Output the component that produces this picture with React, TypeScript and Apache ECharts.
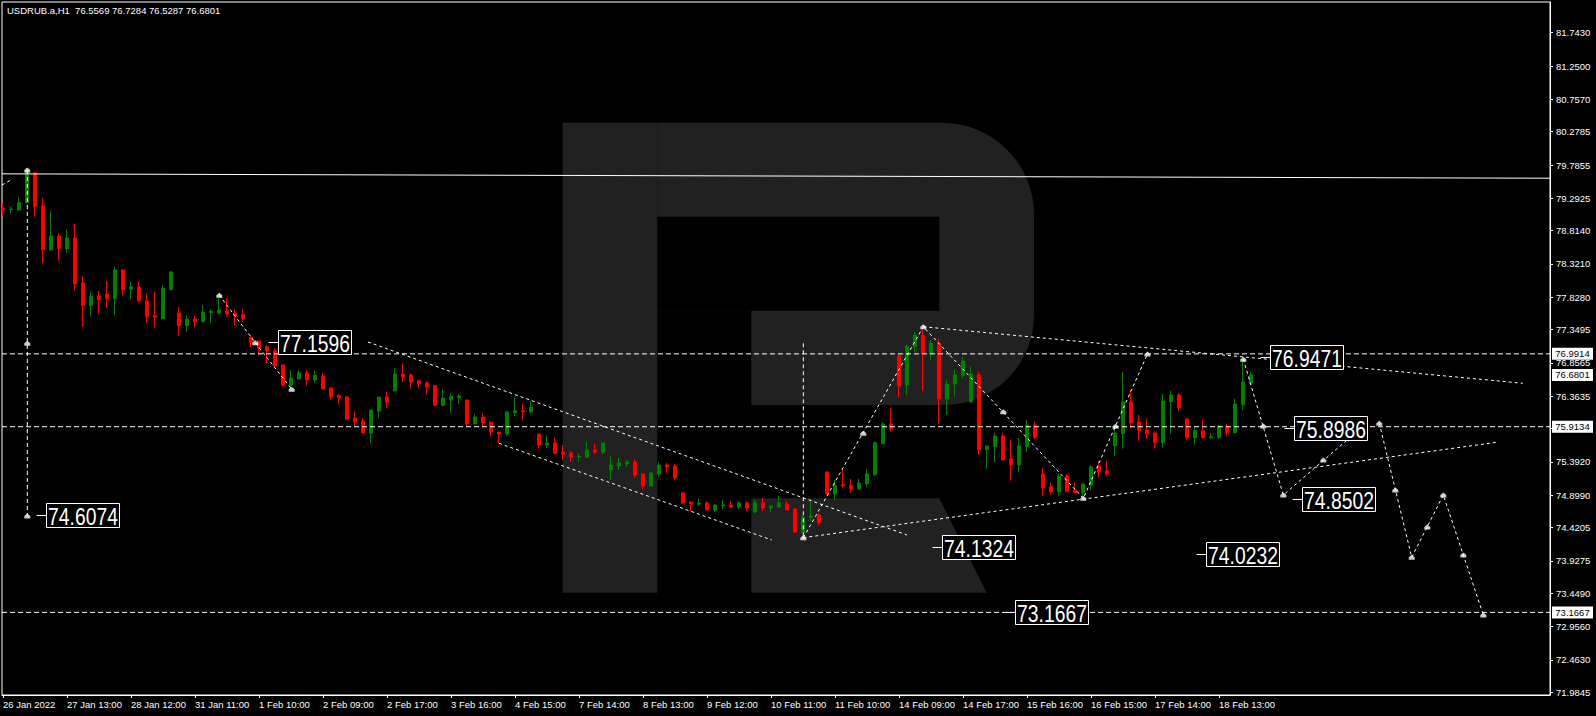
import React, { useEffect, useRef } from "react";
import * as echarts from "echarts";

// ---------- data ----------
const header = "USDRUB.a,H1  76.5569 76.7284 76.5287 76.6801";

// time-axis labels, one every 8 hourly bars
const timeLabels = [
  "26 Jan 2022", "27 Jan 13:00", "28 Jan 12:00", "31 Jan 11:00", "1 Feb 10:00",
  "2 Feb 09:00", "2 Feb 17:00", "3 Feb 16:00", "4 Feb 15:00", "7 Feb 14:00",
  "8 Feb 13:00", "9 Feb 12:00", "10 Feb 11:00", "11 Feb 10:00", "14 Feb 09:00",
  "14 Feb 17:00", "15 Feb 16:00", "16 Feb 15:00", "17 Feb 14:00", "18 Feb 13:00",
];
const barsPerLabel = 8;

// price-axis tick labels
const priceTicks = [
  81.743, 81.25, 80.757, 80.2785, 79.7855, 79.2925, 78.814, 78.321, 77.828,
  77.3495, 76.8565, 76.3635, 75.885, 75.392, 74.899, 74.4205, 73.9275, 73.449,
  72.956, 72.463, 71.9845,
];

// H1 candles: [open, close, low, high]
const ohlc: number[][] = [
  [79.149, 79.12, 79.031, 79.223], [79.127, 79.135, 79.071, 79.169], [79.12, 79.228, 79.105, 79.312],
  [79.228, 79.672, 79.228, 79.734], [79.667, 79.169, 79.021, 79.682], [79.179, 78.533, 78.331, 79.293],
  [78.528, 78.735, 78.518, 79.105], [78.735, 78.547, 78.37, 78.775], [78.547, 78.706, 78.488, 78.824],
  [78.706, 78.029, 77.936, 78.913], [78.04, 77.704, 77.393, 78.143], [77.704, 77.848, 77.556, 77.917],
  [77.848, 77.793, 77.586, 77.921], [77.877, 77.807, 77.674, 78.069], [77.807, 78.232, 77.571, 78.277],
  [78.232, 77.941, 77.852, 78.247], [77.947, 77.985, 77.807, 78.055], [77.981, 77.778, 77.749, 78.069],
  [77.774, 77.541, 77.453, 77.877], [77.556, 77.532, 77.379, 77.907], [77.511, 77.966, 77.507, 78.01],
  [77.941, 78.203, 77.936, 78.217], [77.596, 77.408, 77.26, 77.685], [77.408, 77.507, 77.319, 77.556],
  [77.507, 77.467, 77.379, 77.552], [77.467, 77.606, 77.463, 77.714], [77.6, 77.621, 77.453, 77.655],
  [77.596, 77.64, 77.571, 77.822], [77.626, 77.586, 77.541, 77.818], [77.596, 77.556, 77.408, 77.655],
  [77.571, 77.507, 77.467, 77.655], [77.236, 77.162, 77.092, 77.27], [77.182, 77.078, 76.989, 77.186],
  [77.097, 77.034, 76.852, 77.122], [77.034, 76.812, 76.801, 77.074], [76.827, 76.531, 76.506, 76.827],
  [76.526, 76.634, 76.497, 76.753], [76.619, 76.713, 76.615, 76.753], [76.708, 76.609, 76.521, 76.753],
  [76.605, 76.674, 76.565, 76.742], [76.664, 76.472, 76.467, 76.708], [76.487, 76.358, 76.309, 76.487],
  [76.372, 76.343, 76.254, 76.398], [76.353, 76.028, 76.013, 76.368], [76.042, 75.983, 75.924, 76.131],
  [75.998, 75.821, 75.821, 76.042], [75.821, 76.161, 75.673, 76.161], [76.146, 76.353, 76.042, 76.353],
  [76.353, 76.279, 76.191, 76.427], [76.442, 76.694, 76.442, 76.782], [76.694, 76.649, 76.575, 76.841],
  [76.679, 76.575, 76.487, 76.708], [76.594, 76.546, 76.487, 76.605], [76.56, 76.501, 76.398, 76.59],
  [76.521, 76.23, 76.22, 76.531], [76.23, 76.338, 76.22, 76.472], [76.309, 76.358, 76.116, 76.412],
  [76.343, 76.368, 76.25, 76.398], [76.309, 75.954, 75.924, 76.309], [75.954, 76.057, 75.949, 76.102],
  [76.057, 75.969, 75.914, 76.112], [75.983, 75.835, 75.776, 75.983], [75.835, 75.806, 75.668, 75.835],
  [75.806, 76.131, 75.781, 76.151], [76.121, 76.151, 76.072, 76.338], [76.151, 76.136, 76.013, 76.25],
  [76.131, 76.205, 76.106, 76.294], [75.806, 75.643, 75.584, 75.806], [75.643, 75.673, 75.599, 75.787],
  [75.673, 75.52, 75.51, 75.747], [75.54, 75.505, 75.421, 75.643], [75.525, 75.466, 75.396, 75.554],
  [75.47, 75.48, 75.396, 75.52], [75.461, 75.569, 75.451, 75.688], [75.569, 75.535, 75.51, 75.658],
  [75.54, 75.673, 75.51, 75.673], [75.273, 75.347, 75.125, 75.48], [75.332, 75.377, 75.273, 75.451],
  [75.362, 75.392, 75.318, 75.421], [75.392, 75.199, 75.155, 75.436], [75.214, 75.036, 74.992, 75.229],
  [75.036, 75.229, 75.026, 75.244], [75.214, 75.347, 75.17, 75.392], [75.347, 75.318, 75.229, 75.377],
  [75.332, 75.155, 75.125, 75.362], [74.933, 74.785, 74.77, 74.948], [74.8, 74.77, 74.667, 74.814],
  [74.77, 74.785, 74.741, 74.844], [74.785, 74.681, 74.681, 74.814], [74.681, 74.755, 74.652, 74.77],
  [74.741, 74.755, 74.696, 74.829], [74.755, 74.726, 74.711, 74.814], [74.726, 74.785, 74.696, 74.814],
  [74.785, 74.711, 74.667, 74.814], [74.652, 74.785, 74.637, 74.829], [74.785, 74.711, 74.667, 74.859],
  [74.711, 74.741, 74.652, 74.741], [74.726, 74.785, 74.711, 74.889], [74.77, 74.681, 74.681, 74.814],
  [74.696, 74.355, 74.341, 74.711], [74.355, 74.577, 74.341, 74.607], [74.573, 74.593, 74.523, 74.84],
  [74.607, 74.494, 74.449, 74.637], [75.244, 74.918, 74.918, 75.244], [74.918, 75.051, 74.829, 75.125],
  [75.055, 75.036, 75.011, 75.288], [75.046, 74.996, 74.937, 75.14], [74.996, 75.081, 74.973, 75.145],
  [75.071, 75.218, 75.017, 75.288], [75.204, 75.677, 75.184, 75.692], [75.662, 75.954, 75.658, 75.979],
  [75.954, 75.884, 75.84, 76.186], [76.964, 76.516, 76.353, 76.964], [76.531, 77.108, 76.383, 77.122],
  [77.097, 77.27, 77.019, 77.315], [77.266, 76.994, 76.446, 77.355], [76.994, 77.147, 76.901, 77.197],
  [77.147, 76.324, 75.958, 77.207], [76.324, 76.546, 76.091, 76.609], [76.546, 76.679, 76.358, 76.757],
  [76.668, 76.886, 76.624, 76.945], [76.279, 76.694, 76.269, 76.801], [76.679, 75.573, 75.495, 76.728],
  [75.573, 75.628, 75.292, 75.628], [75.618, 75.776, 75.387, 75.825], [75.776, 75.421, 75.421, 75.825],
  [75.436, 75.347, 75.115, 75.717], [75.347, 75.628, 75.244, 75.747], [75.618, 75.939, 75.54, 76.013],
  [75.939, 75.751, 75.736, 75.983], [75.214, 75.011, 74.893, 75.303], [75.026, 74.952, 74.908, 75.081],
  [74.952, 75.184, 74.893, 75.218], [75.184, 74.958, 74.943, 75.214], [74.977, 74.937, 74.923, 75.086],
  [74.937, 75.066, 74.878, 75.086], [75.051, 75.318, 74.977, 75.347], [75.332, 75.248, 75.159, 75.406],
  [75.258, 75.214, 75.189, 75.406], [75.633, 75.821, 75.48, 75.924], [75.81, 76.279, 75.588, 76.723],
  [76.279, 75.969, 75.89, 76.457], [75.983, 75.855, 75.707, 76.087], [75.865, 75.81, 75.736, 76.038],
  [75.821, 75.677, 75.588, 75.84], [75.677, 76.294, 75.603, 76.398], [76.284, 76.383, 75.81, 76.446],
  [76.383, 76.195, 76.151, 76.412], [76.028, 75.751, 75.721, 76.042], [75.751, 75.855, 75.647, 75.914],
  [75.85, 75.751, 75.751, 76.013], [75.751, 75.766, 75.736, 75.825], [75.751, 75.924, 75.736, 75.939],
  [75.924, 75.825, 75.781, 75.954], [75.825, 76.25, 75.81, 76.328], [76.239, 76.575, 76.165, 76.901],
  [76.5569, 76.6801, 76.5287, 76.7284],
];

// horizontal price levels (dashed) and their axis tags
const levels = [76.9914, 75.9134, 73.1667];
const axisTags = [76.9914, 76.6801, 75.9134, 73.1667];

// solid trend ray near the top: [bar, price]
const topRay = [[-0.125, 79.655], [193.375, 79.59]];

// dotted trend lines / forecast path: [bar, price]
const trendLines: number[][][] = [
  [[27.04, 77.858], [31.54, 77.157], [36.09, 76.467]],
  [[45.63, 77.167], [113.0, 74.311]],
  [[62.0, 75.668], [96.09, 74.238]],
  [[100.04, 74.272], [115.04, 77.393], [135.04, 74.854], [143.06, 76.989]],
  [[115.04, 77.393], [189.99, 76.556]],
  [[100.04, 74.272], [186.7, 75.683]],
  [[155.04, 76.911], [160.04, 74.903], [170.04, 75.924]],
  [[172.04, 75.964], [176.09, 73.982], [180.04, 74.903], [185.04, 73.128]],
  [[-0.125, 79.49], [1.0, 79.564]],
];
const verticalLines: number[][][] = [
  [[3.04, 79.712], [3.04, 74.593]],
  [[100.04, 77.148], [100.04, 74.282]],
];

// anchor markers on the drawn lines: [bar, price]
const anchors = [
  [3.04, 79.712], [3.04, 77.148], [3.04, 74.593], [27.04, 77.858], [31.54, 77.157],
  [36.09, 76.467], [100.04, 74.272], [107.54, 75.816], [115.04, 77.393], [125.04, 76.136],
  [135.04, 74.854], [139.06, 75.921], [143.06, 76.989], [155.04, 76.911], [157.54, 75.924],
  [160.04, 74.903], [165.04, 75.421], [170.04, 75.924], [172.04, 75.964], [174.04, 74.977],
  [176.09, 73.982], [178.04, 74.43], [180.04, 74.903], [182.54, 74.016], [185.04, 73.128],
];

// price labels placed on the chart: [bar, price]
const priceLabels = [
  [33.16, 77.1596], [4.13, 74.6074], [116.16, 74.1324], [157.1, 76.9471],
  [160.1, 75.8986], [161.1, 74.8502], [149.1, 74.0232], [125.25, 73.1667],
];

// ---------- layout ----------
const X_MIN = -0.125;
const X_MAX = 193.375;
const Y_MIN = 71.9443;
const Y_MAX = 82.1972;
const FONT = '"Liberation Sans", Arial, sans-serif';
const BULL = "#008000";
const BEAR = "#ff0000";
const LOGO = "#212121";

function buildOption() {
  const xTickValues = timeLabels.map((_, i) => i * barsPerLabel);

  const series: any[] = [];

  series.push({
    type: "candlestick",
    data: ohlc.map((d, i) => [i, d[0], d[1], d[2], d[3]]),
    encode: { x: 0, y: [1, 2, 3, 4] },
    barWidth: 4,
    itemStyle: { color: BULL, color0: BEAR, borderColor: BULL, borderColor0: BEAR, borderWidth: 1 },
    z: 3,
    silent: true,
  });

  series.push({
    type: "line",
    data: topRay,
    symbol: "none",
    lineStyle: { color: "#ffffff", width: 1 },
    z: 4,
    silent: true,
  });

  levels.forEach((lv) => {
    series.push({
      type: "line",
      data: [[X_MIN, lv], [X_MAX, lv]],
      symbol: "none",
      lineStyle: { color: "#ffffff", width: 1, type: [5, 3] },
      z: 4,
      silent: true,
    });
  });

  trendLines.forEach((pts) => {
    series.push({
      type: "line",
      data: pts,
      symbol: "none",
      lineStyle: { color: "#ffffff", width: 1, type: [3, 3] },
      z: 4,
      silent: true,
    });
  });

  verticalLines.forEach((pts) => {
    series.push({
      type: "line",
      data: pts,
      symbol: "none",
      lineStyle: { color: "#ffffff", width: 1, type: [4, 3] },
      z: 4,
      silent: true,
    });
  });

  series.push({
    type: "scatter",
    data: anchors,
    symbol: "path://M3,0 L6,3 L6,6 L0,6 L0,3 Z",
    symbolSize: [6, 5],
    itemStyle: { color: "#ffffff" },
    z: 6,
    silent: true,
  });

  series.push({
    type: "custom",
    data: priceLabels,
    z: 8,
    silent: true,
    renderItem: (_params: any, api: any) => {
      const price = api.value(1);
      const p = api.coord([api.value(0), price]);
      const x = Math.round(p[0]) + 0.5;
      const y = Math.round(p[1]) + 0.5;
      return {
        type: "group",
        children: [
          { type: "line", shape: { x1: x, y1: y, x2: x + 10, y2: y }, style: { stroke: "#ffffff", lineWidth: 1 } },
          { type: "rect", shape: { x: x + 10, y: y - 12, width: 73, height: 24 }, style: { fill: "#000000", stroke: "#ffffff", lineWidth: 1 } },
          {
            type: "text",
            x: x + 46.5,
            y: y + 1,
            scaleX: 0.84,
            style: {
              text: price.toFixed(4),
              fill: "#ffffff",
              font: `23px ${FONT}`,
              align: "center",
              verticalAlign: "middle",
            },
          },
        ],
      };
    },
  });

  series.push({
    type: "custom",
    data: axisTags.map((v) => [X_MAX, v]),
    z: 10,
    silent: true,
    clip: false,
    renderItem: (_params: any, api: any) => {
      const price = api.value(1);
      const p = api.coord([api.value(0), price]);
      return {
        type: "group",
        children: [
          { type: "rect", shape: { x: p[0] + 2, y: p[1] - 6, width: 41, height: 12 }, style: { fill: "#ffffff" } },
          {
            type: "text",
            x: p[0] + 22.5,
            y: p[1],
            style: { text: price.toFixed(4), fill: "#000000", font: `9.5px ${FONT}`, align: "center", verticalAlign: "middle" },
          },
        ],
      };
    },
  });

  return {
    animation: false,
    backgroundColor: "#000000",
    title: {
      text: header,
      left: 7,
      top: 5,
      padding: 0,
      textStyle: { color: "#ffffff", fontSize: 9.5, fontWeight: "normal", fontFamily: FONT },
    },
    grid: {
      left: 2,
      top: 2,
      width: 1548,
      height: 693,
      show: true,
      borderColor: "#ffffff",
      borderWidth: 1,
      backgroundColor: "transparent",
    },
    xAxis: {
      type: "value",
      min: X_MIN,
      max: X_MAX,
      axisLine: { show: true, onZero: false, lineStyle: { color: "#ffffff" } },
      axisTick: { show: true, customValues: xTickValues, length: 3, lineStyle: { color: "#ffffff" } },
      axisLabel: {
        show: true,
        customValues: xTickValues,
        formatter: (v: number) => timeLabels[Math.round(v / barsPerLabel)] ?? "",
        color: "#ffffff",
        fontSize: 9.5,
        fontFamily: FONT,
        align: "left",
        margin: 4,
      },
      splitLine: { show: false },
    },
    yAxis: {
      type: "value",
      position: "right",
      min: Y_MIN,
      max: Y_MAX,
      axisLine: { show: true, onZero: false, lineStyle: { color: "#ffffff" } },
      axisTick: { show: true, customValues: priceTicks, length: 3, lineStyle: { color: "#ffffff" } },
      axisLabel: {
        show: true,
        customValues: priceTicks,
        formatter: (v: number) => v.toFixed(4),
        color: "#ffffff",
        fontSize: 9.5,
        fontFamily: FONT,
        margin: 6,
      },
      splitLine: { show: false },
    },
    graphic: {
      elements: [
        { type: "rect", z: -5, shape: { x: 562.7, y: 122.7, width: 94.6, height: 470 }, style: { fill: LOGO } },
        { type: "rect", z: -5, shape: { x: 657.3, y: 122.7, width: 376.7, height: 282.3, r: [0, 92, 90, 0] }, style: { fill: LOGO } },
        { type: "rect", z: -4, shape: { x: 657.3, y: 216.7, width: 282, height: 94 }, style: { fill: "#000000" } },
        { type: "rect", z: -4, shape: { x: 657.3, y: 310.7, width: 94, height: 94.3 }, style: { fill: "#000000" } },
        {
          type: "polygon",
          z: -5,
          shape: { points: [[751.3, 498.3], [939.3, 498.3], [986.7, 592.7], [751.3, 592.7]] },
          style: { fill: LOGO },
        },
      ],
    },
    series,
  };
}

export default function App() {
  const ref = useRef<HTMLDivElement>(null);
  useEffect(() => {
    if (!ref.current) return;
    const chart = echarts.init(ref.current, null, { renderer: "svg" });
    chart.setOption(buildOption() as any);
    return () => chart.dispose();
  }, []);
  return (
    <div
      ref={ref}
      style={{ position: "fixed", left: 0, top: 0, width: 1596, height: 716, background: "#000000" }}
    />
  );
}
